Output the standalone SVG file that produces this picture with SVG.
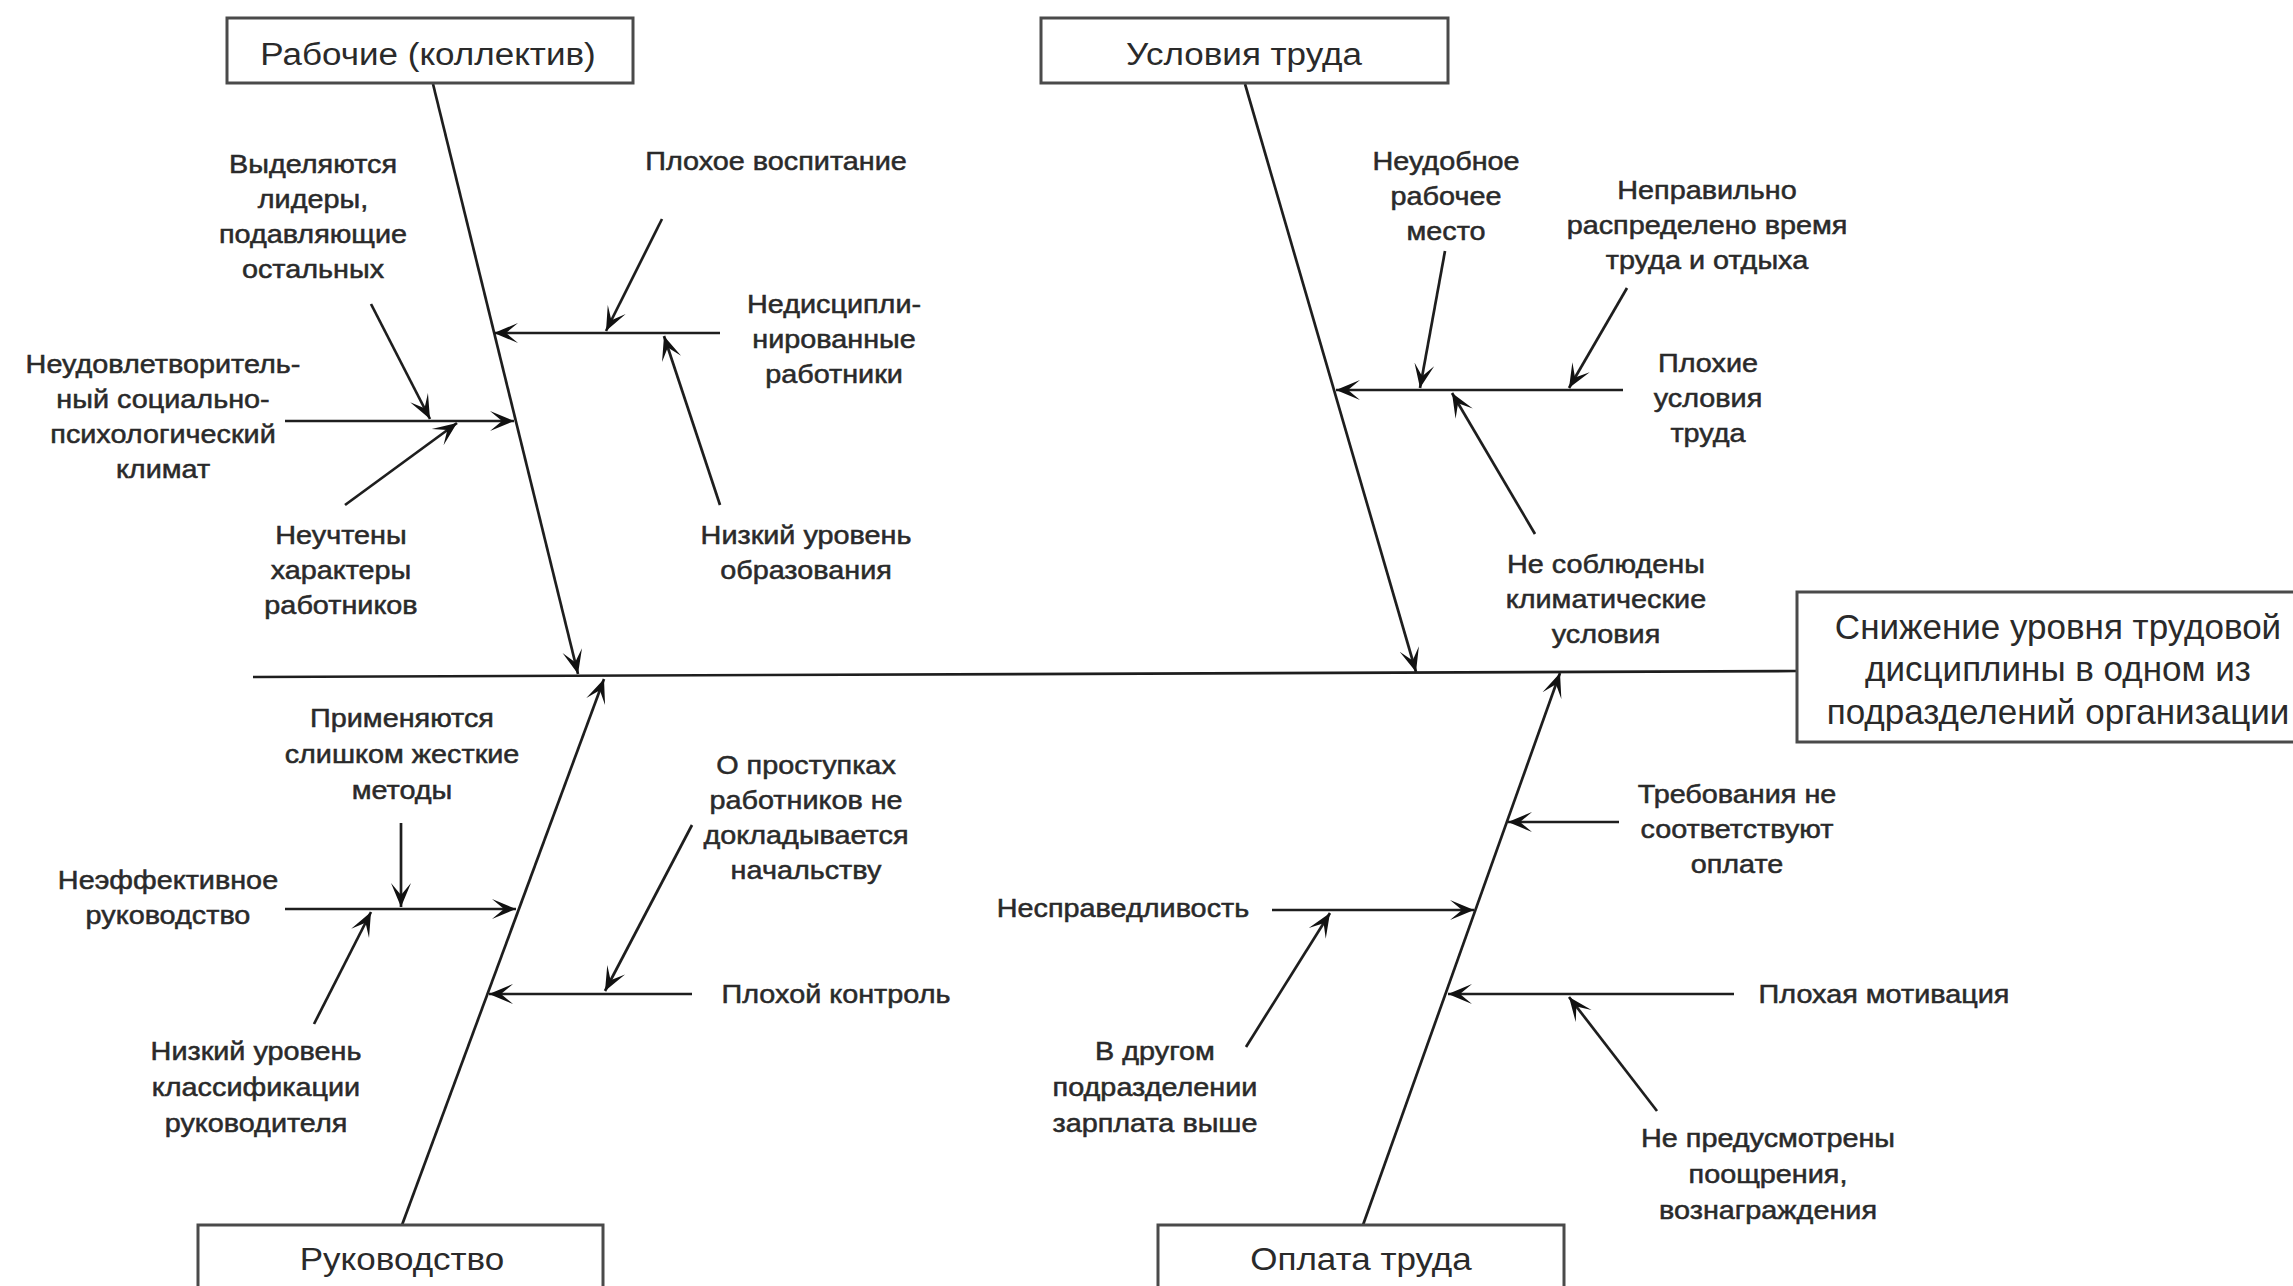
<svg xmlns="http://www.w3.org/2000/svg" width="2293" height="1286" viewBox="0 0 2293 1286">
<defs>
<style>
.bx{fill:#fff;stroke:#4a4a4a;stroke-width:3}
.ln{fill:none;stroke:#1e1e1e;stroke-width:2.7}
.ar{marker-end:url(#ah)}
.lb{font-family:"Liberation Sans",Arial,sans-serif;font-size:25.5px;fill:#2a2a2a;text-anchor:middle;stroke:#2a2a2a;stroke-width:0.5}
.tt{font-family:"Liberation Sans",Arial,sans-serif;font-size:31px;fill:#2a2a2a;text-anchor:middle}
.ef{font-family:"Liberation Sans",Arial,sans-serif;font-size:35px;fill:#2a2a2a;text-anchor:middle}
</style>
<marker id="ah" viewBox="0 0 24 22" refX="24" refY="11" markerWidth="24" markerHeight="22" orient="auto" markerUnits="userSpaceOnUse">
<path d="M24,11 L0,1 L12,11 L0,21 Z" fill="#111"/>
</marker>
</defs>
<rect width="2293" height="1286" fill="#fff"/>

<g id="connectors">
<path class="ln" d="M253,677 L1797,671"/>
<path class="ln ar" d="M433,84 L578,674"/>
<path class="ln ar" d="M1245,84 L1416,672"/>
<path class="ln ar" d="M402,1225 L604,679"/>
<path class="ln ar" d="M1363,1225 L1560,673"/>

<path class="ln ar" d="M720,333 L494,333"/>
<path class="ln ar" d="M662,219 L606,331"/>
<path class="ln ar" d="M720,505 L664,336"/>
<path class="ln ar" d="M285,421 L514,421"/>
<path class="ln ar" d="M371,304 L430,419"/>
<path class="ln ar" d="M345,505 L457,423"/>

<path class="ln ar" d="M1623,390 L1336,390"/>
<path class="ln ar" d="M1445,251 L1420,388"/>
<path class="ln ar" d="M1627,288 L1569,388"/>
<path class="ln ar" d="M1535,534 L1452,393"/>

<path class="ln ar" d="M285,909 L516,909"/>
<path class="ln ar" d="M401,823 L401,907"/>
<path class="ln ar" d="M314,1024 L371,912"/>
<path class="ln ar" d="M692,994 L489,994"/>
<path class="ln ar" d="M692,825 L605,991"/>

<path class="ln ar" d="M1619,822 L1508,822"/>
<path class="ln ar" d="M1272,910 L1474,910"/>
<path class="ln ar" d="M1246,1047 L1330,913"/>
<path class="ln ar" d="M1734,994 L1448,994"/>
<path class="ln ar" d="M1657,1111 L1569,997"/>
</g>

<g id="node-workers">
<rect class="bx" x="227" y="18" width="406" height="65"/>
<text class="tt" transform="translate(428,65) scale(1.13,1)">Рабочие (коллектив)</text>
</g>
<g id="node-conditions">
<rect class="bx" x="1041" y="18" width="407" height="65"/>
<text class="tt" transform="translate(1244,65) scale(1.13,1)">Условия труда</text>
</g>
<g id="node-management">
<rect class="bx" x="198" y="1225" width="405" height="80"/>
<text class="tt" transform="translate(402,1270) scale(1.13,1)">Руководство</text>
</g>
<g id="node-pay">
<rect class="bx" x="1158" y="1225" width="406" height="80"/>
<text class="tt" transform="translate(1361,1270) scale(1.13,1)">Оплата труда</text>
</g>
<g id="node-effect">
<rect class="bx" x="1797" y="592" width="520" height="150"/>
<text class="ef" transform="translate(2058,639)"><tspan x="0">Снижение уровня трудовой</tspan><tspan x="0" dy="42">дисциплины в одном из</tspan><tspan x="0" dy="43">подразделений организации</tspan></text>
</g>

<g id="node-w1"><text class="lb" transform="translate(776,170) scale(1.13,1)">Плохое воспитание</text></g>
<g id="node-w2"><text class="lb" transform="translate(834,313) scale(1.13,1)"><tspan x="0">Недисципли-</tspan><tspan x="0" dy="35">нированные</tspan><tspan x="0" dy="35">работники</tspan></text></g>
<g id="node-w3"><text class="lb" transform="translate(806,544) scale(1.13,1)"><tspan x="0">Низкий уровень</tspan><tspan x="0" dy="35">образования</tspan></text></g>
<g id="node-w4"><text class="lb" transform="translate(313,173) scale(1.13,1)"><tspan x="0">Выделяются</tspan><tspan x="0" dy="35">лидеры,</tspan><tspan x="0" dy="35">подавляющие</tspan><tspan x="0" dy="35">остальных</tspan></text></g>
<g id="node-w5"><text class="lb" transform="translate(163,373) scale(1.13,1)"><tspan x="0">Неудовлетворитель-</tspan><tspan x="0" dy="35">ный социально-</tspan><tspan x="0" dy="35">психологический</tspan><tspan x="0" dy="35">климат</tspan></text></g>
<g id="node-w6"><text class="lb" transform="translate(341,544) scale(1.13,1)"><tspan x="0">Неучтены</tspan><tspan x="0" dy="35">характеры</tspan><tspan x="0" dy="35">работников</tspan></text></g>

<g id="node-c1"><text class="lb" transform="translate(1446,170) scale(1.13,1)"><tspan x="0">Неудобное</tspan><tspan x="0" dy="35">рабочее</tspan><tspan x="0" dy="35">место</tspan></text></g>
<g id="node-c2"><text class="lb" transform="translate(1707,199) scale(1.13,1)"><tspan x="0">Неправильно</tspan><tspan x="0" dy="35">распределено время</tspan><tspan x="0" dy="35">труда и отдыха</tspan></text></g>
<g id="node-c3"><text class="lb" transform="translate(1708,372) scale(1.13,1)"><tspan x="0">Плохие</tspan><tspan x="0" dy="35">условия</tspan><tspan x="0" dy="35">труда</tspan></text></g>
<g id="node-c4"><text class="lb" transform="translate(1606,573) scale(1.13,1)"><tspan x="0">Не соблюдены</tspan><tspan x="0" dy="35">климатические</tspan><tspan x="0" dy="35">условия</tspan></text></g>

<g id="node-m1"><text class="lb" transform="translate(402,727) scale(1.13,1)"><tspan x="0">Применяются</tspan><tspan x="0" dy="36">слишком жесткие</tspan><tspan x="0" dy="36">методы</tspan></text></g>
<g id="node-m2"><text class="lb" transform="translate(168,889) scale(1.13,1)"><tspan x="0">Неэффективное</tspan><tspan x="0" dy="35">руководство</tspan></text></g>
<g id="node-m3"><text class="lb" transform="translate(256,1060) scale(1.13,1)"><tspan x="0">Низкий уровень</tspan><tspan x="0" dy="36">классификации</tspan><tspan x="0" dy="36">руководителя</tspan></text></g>
<g id="node-m4"><text class="lb" transform="translate(806,774) scale(1.13,1)"><tspan x="0">О проступках</tspan><tspan x="0" dy="35">работников не</tspan><tspan x="0" dy="35">докладывается</tspan><tspan x="0" dy="35">начальству</tspan></text></g>
<g id="node-m5"><text class="lb" transform="translate(836,1003) scale(1.13,1)">Плохой контроль</text></g>

<g id="node-p1"><text class="lb" transform="translate(1737,803) scale(1.13,1)"><tspan x="0">Требования не</tspan><tspan x="0" dy="35">соответствуют</tspan><tspan x="0" dy="35">оплате</tspan></text></g>
<g id="node-p2"><text class="lb" transform="translate(1123,917) scale(1.13,1)">Несправедливость</text></g>
<g id="node-p3"><text class="lb" transform="translate(1155,1060) scale(1.13,1)"><tspan x="0">В другом</tspan><tspan x="0" dy="36">подразделении</tspan><tspan x="0" dy="36">зарплата выше</tspan></text></g>
<g id="node-p4"><text class="lb" transform="translate(1884,1003) scale(1.13,1)">Плохая мотивация</text></g>
<g id="node-p5"><text class="lb" transform="translate(1768,1147) scale(1.13,1)"><tspan x="0">Не предусмотрены</tspan><tspan x="0" dy="36">поощрения,</tspan><tspan x="0" dy="36">вознаграждения</tspan></text></g>
</svg>
